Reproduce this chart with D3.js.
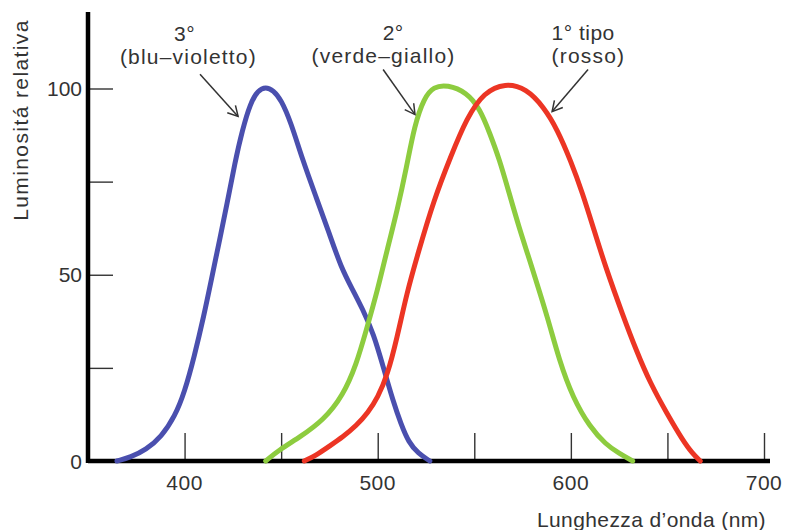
<!DOCTYPE html>
<html>
<head>
<meta charset="utf-8">
<script src="https://cdnjs.cloudflare.com/ajax/libs/d3/7.8.5/d3.min.js"></script>
<style>
  body { margin: 0; background: #fff; }
  svg text { font-family: "Liberation Sans", Arial, sans-serif; fill: #333; }
</style>
</head>
<body>
<div id="chart"></div>
<script>
// sensibilita' dei tre tipi di coni [nm, luminosita']
var blu = [[365,0],[372,1],[380,3],[388,6.5],[395,12],[400,18.5],[405,28],[410,39],[414,49],[418,59],[422,69],[426,80],[430,89],[434,96],[438,99.5],[442,100.5],[446,99.5],[450,97],[455,91],[461,81],[468,71],[475,61],[481,52],[487,46],[492,41],[498,34],[503,25],[508,16],[512,10],[516,5],[521,2],[527,0]];
var verde = [[442,0],[449,3],[460,6.5],[472,11],[482,17.5],[489,26],[494,35],[500,46],[505,57],[510,67],[515,79],[519,90],[524,97.5],[529,100.5],[536,101],[546,99],[553,94.5],[558,88],[563,81],[568,72],[573,63],[578,55],[581,50],[588,38.5],[594,27],[601,17],[610,9],[618,4.5],[625,2],[632,0]];
var rosso = [[462,0],[468,1.5],[475,4],[482,6.5],[489,9.5],[495,13],[500,17],[505,23],[510,33],[515,45],[521,56],[529,70],[538,82],[546,92],[555,99],[566,101.5],[577,100],[586,95],[593,89],[600,80.5],[606,72],[612,62],[618,52],[627,39],[634,29.5],[641,21],[650,12.5],[658,5.5],[663,2],[667,0]];

var xTicks = [400,450,500,550,600,650,700];
var xLabels = [400,500,600,700];
var yTicks = [25,50,75,100];
var yLabels = [0,50,100];

// etichette: testo, riga 2, [nm,lum] partenza freccia, [nm,lum] punta freccia
var etichette = [
  {t1: "3\u00b0", t2: "(blu\u2013violetto)", from: [408,103.8], to: [427.7,92.5]},
  {t1: "2\u00b0", t2: "(verde\u2013giallo)", from: [502.8,105.1], to: [519.3,93]},
  {t1: "1\u00b0 tipo", t2: "(rosso)", from: [608.9,105.1], to: [590.3,93.8]}
];

var W = 785, H = 530;
var svg = d3.select("#chart").append("svg").attr("width", W).attr("height", H);

var x = d3.scaleLinear().domain([350,700]).range([88,764]);
var y = d3.scaleLinear().domain([0,100]).range([461,88.5]);

// tick interni (sopra l'asse x, a destra dell'asse y)
var gx = svg.append("g").attr("transform", "translate(0," + y(0) + ")")
  .call(d3.axisTop(x).tickValues(xTicks).tickSize(28).tickFormat(""));
gx.select(".domain").remove();
gx.selectAll(".tick line").attr("stroke", "#333").attr("stroke-width", 1.4);

var gy = svg.append("g").attr("transform", "translate(" + x(350) + ",0)")
  .call(d3.axisRight(y).tickValues(yTicks).tickSize(25).tickFormat(""));
gy.select(".domain").remove();
gy.selectAll(".tick line").attr("stroke", "#333").attr("stroke-width", 1.4);

// assi spessi
svg.append("line").attr("x1", x(350)).attr("x2", 770).attr("y1", y(0)).attr("y2", y(0))
  .attr("stroke", "#000").attr("stroke-width", 4.5);
svg.append("line").attr("x1", x(350)).attr("x2", x(350)).attr("y1", y(0) + 2).attr("y2", 12)
  .attr("stroke", "#000").attr("stroke-width", 4.5);

svg.selectAll(".xl").data(xLabels).enter().append("text")
  .attr("x", function(d){ return x(d); }).attr("y", 490)
  .attr("text-anchor", "middle").attr("font-size", 21).attr("letter-spacing", 0.5)
  .text(function(d){ return d; });
svg.selectAll(".yl").data(yLabels).enter().append("text")
  .attr("x", 82).attr("y", function(d){ return y(d) + 7.5; })
  .attr("text-anchor", "end").attr("font-size", 21).text(function(d){ return d; });

svg.append("text").attr("transform", "translate(28,120) rotate(-90)")
  .attr("text-anchor", "middle").attr("font-size", 21).attr("letter-spacing", 1.4)
  .text("Luminosit\u00e1 relativa");
svg.append("text").attr("x", 766).attr("y", 527).attr("text-anchor", "end")
  .attr("font-size", 21).attr("letter-spacing", 0.4).text("Lunghezza  d\u2019onda (nm)");

// curve
var line = d3.line().x(function(d){ return x(d[0]); }).y(function(d){ return y(d[1]); })
  .curve(d3.curveBasis);
var serie = [[blu, "#4a4fae"], [verde, "#8dcc3f"], [rosso, "#ec3524"]];
serie.forEach(function(s){
  svg.append("path").attr("d", line(s[0])).attr("fill", "none")
    .attr("stroke", s[1]).attr("stroke-width", 5).attr("stroke-linecap", "round");
});

// frecce ed etichette
svg.append("defs").append("marker").attr("id", "punta")
  .attr("viewBox", "-12 -7 14 14").attr("markerWidth", 14).attr("markerHeight", 14)
  .attr("markerUnits", "userSpaceOnUse").attr("orient", "auto")
  .append("path").attr("d", "M-10,-5.5L0,0L-10,5.5").attr("fill", "none")
  .attr("stroke", "#333").attr("stroke-width", 1.5);

etichette.forEach(function(e){
  svg.append("line").attr("x1", x(e.from[0])).attr("y1", y(e.from[1]))
    .attr("x2", x(e.to[0])).attr("y2", y(e.to[1]))
    .attr("stroke", "#333").attr("stroke-width", 1.5).attr("marker-end", "url(#punta)");
});

function scritta(t, nm, yy, anchor, ls) {
  svg.append("text").attr("x", x(nm)).attr("y", yy).attr("text-anchor", anchor)
    .attr("font-size", 21).attr("letter-spacing", ls).text(t);
}
scritta(etichette[0].t1, 400, 41, "middle", 0.5);
scritta(etichette[0].t2, 402, 64, "middle", 1.2);
scritta(etichette[1].t1, 508, 40, "middle", 0.5);
scritta(etichette[1].t2, 503, 63, "middle", 1.2);
scritta(etichette[2].t1, 590, 40, "start", 0.5);
scritta(etichette[2].t2, 590, 63, "start", 1.2);
</script>
</body>
</html>
